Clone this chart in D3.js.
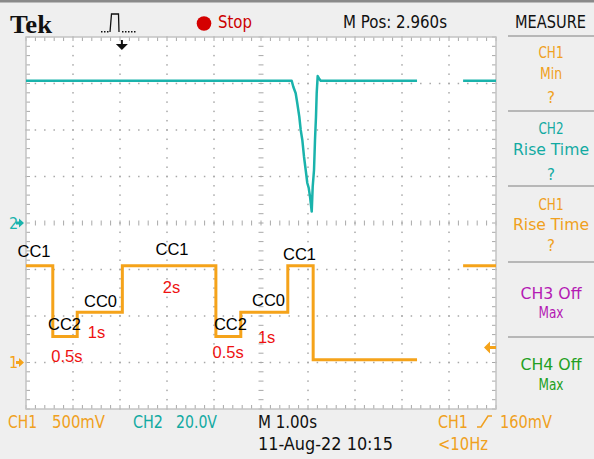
<!DOCTYPE html>
<html><head><meta charset="utf-8">
<script src="https://cdn.jsdelivr.net/npm/d3@7"></script>
<style>body{margin:0;background:#efefef}svg{display:block}</style>
</head><body><svg id="c" width="594" height="459"></svg>
<script>
// ---- data (time in s from left edge of screen, CH1 in V, CH2 in V) ----
const ch1Time  = [0, 0.57, 1.09, 2.05, 4.04, 4.57, 5.57, 6.11, 8.32];
const ch1Volt  = [1.04, 0.28, 0.54, 1.04, 0.28, 0.54, 1.04, 0.03, 0.03];
const ch1Time2 = [9.30, 10];
const ch1Volt2 = [1.04, 1.04];
const ch2Time  = [0, 5.653, 5.687, 5.738, 5.772, 5.815, 5.845, 5.879, 5.915, 5.951, 5.985, 6.015, 6.043, 6.079, 6.100, 6.128, 6.149, 6.170, 6.185, 6.206, 6.234, 6.270, 8.32];
const ch2Volt  = [61.2, 61.2, 58.6, 55.8, 51.5, 45.7, 40.0, 35.7, 28.5, 22.8, 17.2, 15.1, 11.3, 4.9, 15.6, 22.8, 35.7, 45.7, 55.8, 63.2, 62.2, 61.2, 61.2];
const ch2Time2 = [9.30, 10];
const ch2Volt2 = [61.2, 61.2];
const stateLabels = ["CC1", "CC2", "CC0", "CC1", "CC2", "CC0", "CC1"];
const stateTime   = [0.17, 0.82, 1.585, 3.106, 4.35, 5.16, 5.82];
const stateVolt   = [1.20, 0.415, 0.66, 1.22, 0.415, 0.67, 1.165];
const durLabels = ["0.5s", "1s", "2s", "0.5s", "1s"];
const durTime   = [0.87, 1.50, 3.096, 4.30, 5.12];
const durVolt   = [0.07, 0.33, 0.81, 0.115, 0.275];
const measureItems = [["CH1","Min","?"],["CH2","Rise Time","?"],["CH1","Rise Time","?"],["CH3 Off","Max"],["CH4 Off","Max"]];
const ch1Scale = 0.5, ch1Offset = -3, ch2Scale = 20, ch2Offset = 0;
const trigTime = 2.04, trigLevel = 0.16;

// ---- layout ----
const svg = d3.select("#c");
const L = 26, R = 496, T = 37, B = 409;
const x = d3.scaleLinear().domain([0, 10]).range([L, R]);
const yd = d3.scaleLinear().domain([-4, 4]).range([B, T]);
const y1 = v => yd(ch1Offset + v / ch1Scale);
const y2 = v => yd(ch2Offset + v / ch2Scale);
const ORANGE = "#f5a31a", TEAL = "#1ab3ac", TXT_OR = "#f0a020", TXT_TEAL = "#12aaa2";
const SF = "'Liberation Sans Narrow','DejaVu Sans Condensed','Liberation Sans',sans-serif";

svg.append("rect").attr("width", 594).attr("height", 459).attr("fill", "#efefef");
svg.append("rect").attr("width", 594).attr("height", 2.5).attr("fill", "#8a8a8a");

// plot area
svg.append("rect").attr("x", L).attr("y", T).attr("width", R - L).attr("height", B - T).attr("fill", "#fff");
const g = svg.append("g");
const GRID = "#a8a8a8";
const minorX = d3.range(0, 50.001, 1).map(i => i / 5);
const minorY = d3.range(0, 40.001, 1).map(i => -4 + i / 5);
for (let i = 1; i < 10; i++) {
  if (i === 5) continue;
  minorY.forEach(v => g.append("rect").attr("x", x(i) - 0.75).attr("y", yd(v) - 0.75).attr("width", 1.5).attr("height", 1.5).attr("fill", GRID));
}
for (let j = -3; j <= 3; j++) {
  if (j === 0) continue;
  minorX.forEach(t => g.append("rect").attr("x", x(t) - 0.75).attr("y", yd(j) - 0.75).attr("width", 1.5).attr("height", 1.5).attr("fill", GRID));
}
minorY.forEach(v => g.append("line").attr("x1", x(5) - 2.5).attr("x2", x(5) + 2.5).attr("y1", yd(v)).attr("y2", yd(v)).attr("stroke", GRID).attr("stroke-width", 1));
minorX.forEach(t => g.append("line").attr("x1", x(t)).attr("x2", x(t)).attr("y1", yd(0) - 2.5).attr("y2", yd(0) + 2.5).attr("stroke", GRID).attr("stroke-width", 1));
minorY.forEach(v => {
  g.append("line").attr("x1", L).attr("x2", L + 4).attr("y1", yd(v)).attr("y2", yd(v)).attr("stroke", GRID);
  g.append("line").attr("x1", R - 4).attr("x2", R).attr("y1", yd(v)).attr("y2", yd(v)).attr("stroke", GRID);
});
minorX.forEach(t => {
  g.append("line").attr("x1", x(t)).attr("x2", x(t)).attr("y1", T).attr("y2", T + 4).attr("stroke", GRID);
  g.append("line").attr("x1", x(t)).attr("x2", x(t)).attr("y1", B - 4).attr("y2", B).attr("stroke", GRID);
});
svg.append("rect").attr("x", L).attr("y", T).attr("width", R - L).attr("height", B - T).attr("fill", "none").attr("stroke", "#c4c4c4").attr("stroke-width", 1.5);

// traces
const stepLine = (ys) => d3.line().x(d => x(d[0])).y(d => ys(d[1])).curve(d3.curveStepAfter);
const lin = (ys) => d3.line().x(d => x(d[0])).y(d => ys(d[1]));
svg.append("path").attr("d", stepLine(y1)(d3.zip(ch1Time, ch1Volt))).attr("fill", "none").attr("stroke", ORANGE).attr("stroke-width", 3);
svg.append("path").attr("d", stepLine(y1)(d3.zip(ch1Time2, ch1Volt2))).attr("fill", "none").attr("stroke", ORANGE).attr("stroke-width", 3);
svg.append("path").attr("d", lin(y2)(d3.zip(ch2Time, ch2Volt))).attr("fill", "none").attr("stroke", TEAL).attr("stroke-width", 2.5).attr("stroke-linejoin", "round");
svg.append("path").attr("d", lin(y2)(d3.zip(ch2Time2, ch2Volt2))).attr("fill", "none").attr("stroke", TEAL).attr("stroke-width", 2.5);

// annotations
const AF = "'Liberation Sans',Arial,sans-serif";
svg.selectAll(".st").data(stateLabels).join("text").attr("x", (d, i) => x(stateTime[i])).attr("y", (d, i) => y1(stateVolt[i])).attr("dy", "0.36em")
  .attr("text-anchor", "middle").attr("font-family", AF).attr("font-size", 16.5).attr("fill", "#000").text(d => d);
svg.selectAll(".du").data(durLabels).join("text").attr("x", (d, i) => x(durTime[i])).attr("y", (d, i) => y1(durVolt[i])).attr("dy", "0.36em")
  .attr("text-anchor", "middle").attr("font-family", AF).attr("font-size", 16.5).attr("fill", "#ee1111").text(d => d);

// markers
const tx = x(trigTime);
svg.append("path").attr("d", `M${tx - 1},${T + 3}h2v4h5l-6,6l-6,-6h5z`).attr("fill", "#111");
const ty = y1(trigLevel);
svg.append("path").attr("d", `M${R - 12},${ty} l6,-6 v4.5 h6 v3 h-6 v4.5z`).attr("fill", ORANGE);
function gnd(lbl, yy, col) {
  svg.append("text").attr("x", 9).attr("y", yy + 5.5).attr("font-family", SF).attr("font-size", 16).attr("fill", col).text(lbl);
  svg.append("path").attr("d", `M24,${yy} l-5,-4.5 v3 h-3 v3 h3 v3z`).attr("fill", col);
}
gnd("1", y1(0), ORANGE);
gnd("2", y2(0), TEAL);

// header
function txt(s, xx, yy, w, col, size, fam, anchor, weight) {
  const t = svg.append("text").attr("x", xx).attr("y", yy).attr("font-family", fam || SF).attr("font-size", size)
    .attr("fill", col).attr("text-anchor", anchor || "start").text(s);
  if (weight) t.attr("font-weight", weight);
  if (w) t.attr("textLength", w).attr("lengthAdjust", "spacingAndGlyphs");
  return t;
}
txt("Tek", 10, 33, 42, "#111", 25, "'Liberation Serif','DejaVu Serif',serif", "start", "bold");
svg.append("path").attr("d", "M110,32 L111.5,14 H118.5 L119,32").attr("fill", "none").attr("stroke", "#111").attr("stroke-width", 1.3);
[101, 104, 107, 122, 125, 128, 131, 134].forEach(d => svg.append("rect").attr("x", d).attr("y", 31).attr("width", 1.5).attr("height", 1.5).attr("fill", "#111"));
svg.append("circle").attr("cx", 204).attr("cy", 23.5).attr("r", 7.3).attr("fill", "#d40000");
txt("Stop", 218, 28, 34, "#cc0000", 18);
txt("M Pos: 2.960s", 343, 28, 104, "#111", 18);
txt("MEASURE", 515, 28, 71, "#111", 18);

// measure panel
const SEP = [36, 111, 186, 262, 337];
SEP.forEach(s => svg.append("line").attr("x1", 508).attr("x2", 594).attr("y1", s).attr("y2", s).attr("stroke", "#a4a4a4").attr("stroke-width", 1.5));
const mCols = [TXT_OR, TXT_TEAL, TXT_OR, "#b41ab4", "#22a022"];
const mBase = [[58, 79, 103], [134, 155, 180], [210, 230, 251], [299, 318], [370, 390]];
const mW = { "CH1": 25, "CH2": 25, "Min": 22, "?": 8, "Rise Time": 76, "CH3 Off": 61, "CH4 Off": 61, "Max": 25 };
measureItems.forEach((it, i) => it.forEach((s, k) => {
  txt(s, 551 - mW[s] / 2, mBase[i][k], mW[s], mCols[i], 16);
}));

// footer
txt("CH1", 8, 428, 29, TXT_OR, 18);
txt("500mV", 52, 428, 53, TXT_OR, 18);
txt("CH2", 133, 428, 30, TXT_TEAL, 18);
txt("20.0V", 176, 428, 41, TXT_TEAL, 18);
txt("M 1.00s", 258, 428, 59, "#111", 18);
txt("11-Aug-22 10:15", 258, 450, 135, "#111", 18);
txt("CH1", 438, 428, 30, TXT_OR, 18);
svg.append("path").attr("d", "M477,427 H481 L488,416 H492").attr("fill", "none").attr("stroke", TXT_OR).attr("stroke-width", 1.5);
txt("160mV", 500, 428, 52, TXT_OR, 18);
txt("<10Hz", 438, 450, 50, TXT_OR, 18);
</script></body></html>
